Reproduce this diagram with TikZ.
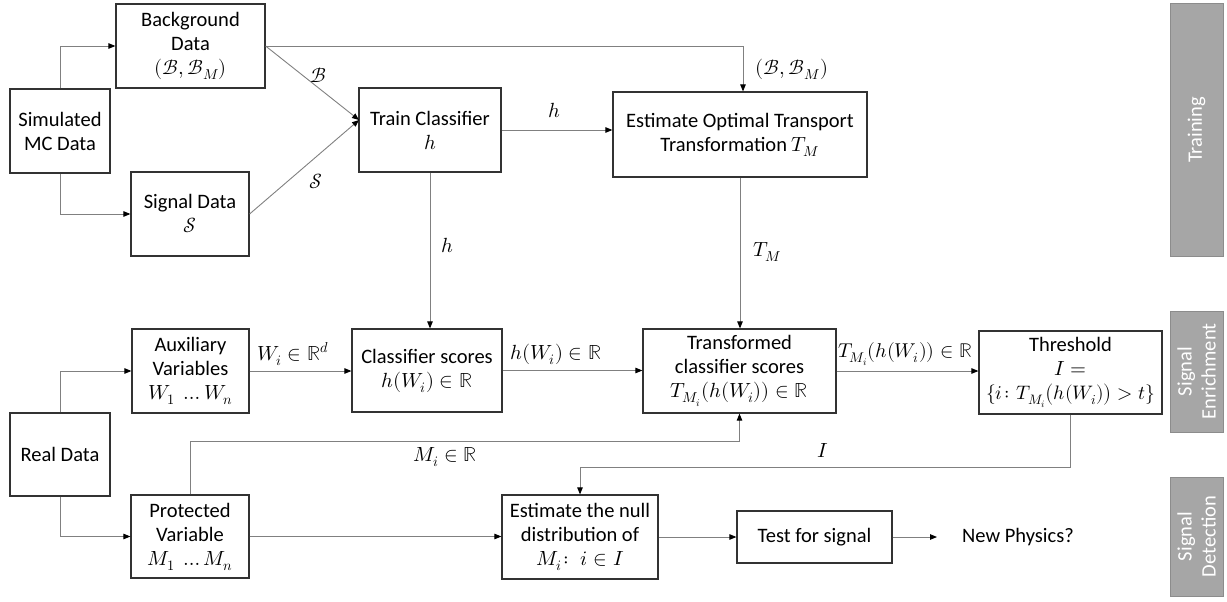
\documentclass[tikz,border=0pt]{standalone}
\usepackage{amsmath}
\usepackage{fontspec}
\usepackage{unicode-math}
\setmainfont{Carlito}
\setmathfont{Latin Modern Math}
\usetikzlibrary{arrows.meta,calc}
\definecolor{linegray}{RGB}{128,128,128}
\definecolor{boxline}{RGB}{50,50,50}
\definecolor{sidefill}{RGB}{166,166,166}
\definecolor{sideline}{RGB}{140,140,140}
\begin{document}
\begin{tikzpicture}[x=1pt,y=-1pt,
  font=\fontsize{20.5}{24}\selectfont,
  box/.style={draw=boxline, line width=1.2pt, rectangle, align=center, inner sep=2pt},
  conn/.style={draw=linegray, line width=0.9pt, -{Triangle[length=7pt,width=5.5pt,color=black]}},
  lbl/.style={inner sep=1pt},
  side/.style={draw=sideline, fill=sidefill, line width=1pt, text=white, align=center, rotate=90, inner sep=0pt}]
\useasboundingbox (0,0) rectangle (1227,602);

% boxes
\node[box, minimum width=100pt, minimum height=84pt] (sim) at (60,131) {Simulated\\MC Data};
\node[box, minimum width=149pt, minimum height=84pt] (bg) at (190.5,46) {Background\\Data\\$(\mathcal{B},\mathcal{B}_M)$};
\node[box, minimum width=118pt, minimum height=84pt] (sig) at (190,214) {Signal Data\\$\mathcal{S}$};
\node[box, minimum width=142pt, minimum height=84pt] (train) at (430,130) {Train Classifier\\$h$};
\node[box, minimum width=254pt, minimum height=85pt] (ot) at (740,134.5) {Estimate Optimal Transport\\Transformation $T_M$};
\node[box, minimum width=117pt, minimum height=84pt] (aux) at (190.5,371) {Auxiliary\\Variables\\$W_1\ \ldots W_n$};
\node[box, minimum width=150pt, minimum height=83pt] (cls) at (427,370.5) {Classifier scores\\$h(W_i)\in\mathbb{R}$};
\node[box, minimum width=193pt, minimum height=84pt] (trans) at (739.5,371) {Transformed\\classifier scores\\$T_{M_i}(h(W_i))\in\mathbb{R}$};
\node[box, minimum width=183pt, minimum height=83pt] (thr) at (1070.5,372.5) {Threshold\\$I=$\\{\fontsize{19.5}{24}\selectfont$\{i\colon T_{M_i}\bigl(h(W_i)\bigr)>t\}$}};
\node[box, minimum width=100pt, minimum height=83pt] (real) at (60,454.5) {Real Data};
\node[box, minimum width=118pt, minimum height=83pt] (prot) at (190,536.5) {Protected\\Variable\\$M_1\ \ldots M_n$};
\node[box, minimum width=156pt, minimum height=84pt] (null) at (580,537) {Estimate the null\\distribution of\\$M_i\colon\ i\in I$};
\node[box, minimum width=155pt, minimum height=52pt] (test) at (814.5,537) {Test for signal};
\node[anchor=west, inner xsep=25pt, inner ysep=2pt] (np) at (937,537) {New Physics?};

% side panels
\node[side, minimum width=252pt, minimum height=53pt] (stage1) at (1196.5,130) {Training};
\node[side, minimum width=121pt, minimum height=53pt] (stage2) at (1196.5,371.5) {Signal\\Enrichment};
\node[side, minimum width=119pt, minimum height=53pt] (stage3) at (1196.5,536.5) {Signal\\Detection};

% connectors
\coordinate (tin) at (359,120);
\draw[conn] (sim.north) |- (bg.west);
\draw[conn] (sim.south) |- (sig.west);
\draw[conn] (bg.east) -- (tin);
\draw[conn] (sig.east) -- (tin);
\draw[conn] (bg.east) -| ([xshift=3pt]ot.north);
\draw[conn] (train.east) -- (train.east -| ot.west);
\draw[conn] (train.south) -- (train.south |- cls.north);
\draw[conn] (ot.south) -- (ot.south |- trans.north);
\draw[conn] (real.north) |- (aux.west);
\draw[conn] (real.south) |- (prot.west);
\draw[conn] (aux.east) -- (aux.east -| cls.west);
\draw[conn] (cls.east) -- (cls.east -| trans.west);
\draw[conn] (trans.east) -- (trans.east -| thr.west);
\draw[conn] (prot.north) -- ++(0,-53) -| (trans.south);
\draw[conn] (prot.east) -- (prot.east -| null.west);
\draw[conn] (thr.south) -- ++(0,53) -| (null.north);
\draw[conn] (null.east) -- (null.east -| test.west);
\draw[conn] (test.east) -- (np.west);

% labels
\node[lbl] (lB) at (318,75) {$\mathcal{B}$};
\node[lbl] (lS) at (316,181) {$\mathcal{S}$};
\node[lbl] (lBB) at (792,69) {$(\mathcal{B},\mathcal{B}_M)$};
\node[lbl] (lh1) at (554,110) {$h$};
\node[lbl] (lh2) at (447,245) {$h$};
\node[lbl] (lTM) at (767,252) {$T_M$};
\node[lbl] (lW) at (293,354) {$W_i\in\mathbb{R}^d$};
\node[lbl] (lhW) at (556,354) {$h(W_i)\in\mathbb{R}$};
\node[lbl, font=\fontsize{20}{24}\selectfont] (lT) at (905,354) {$T_{M_i}(h(W_i))\in\mathbb{R}$};
\node[lbl] (lM) at (445,457) {$M_i\in\mathbb{R}$};
\node[lbl] (lI) at (823,450) {$I$};
\end{tikzpicture}
\end{document}
